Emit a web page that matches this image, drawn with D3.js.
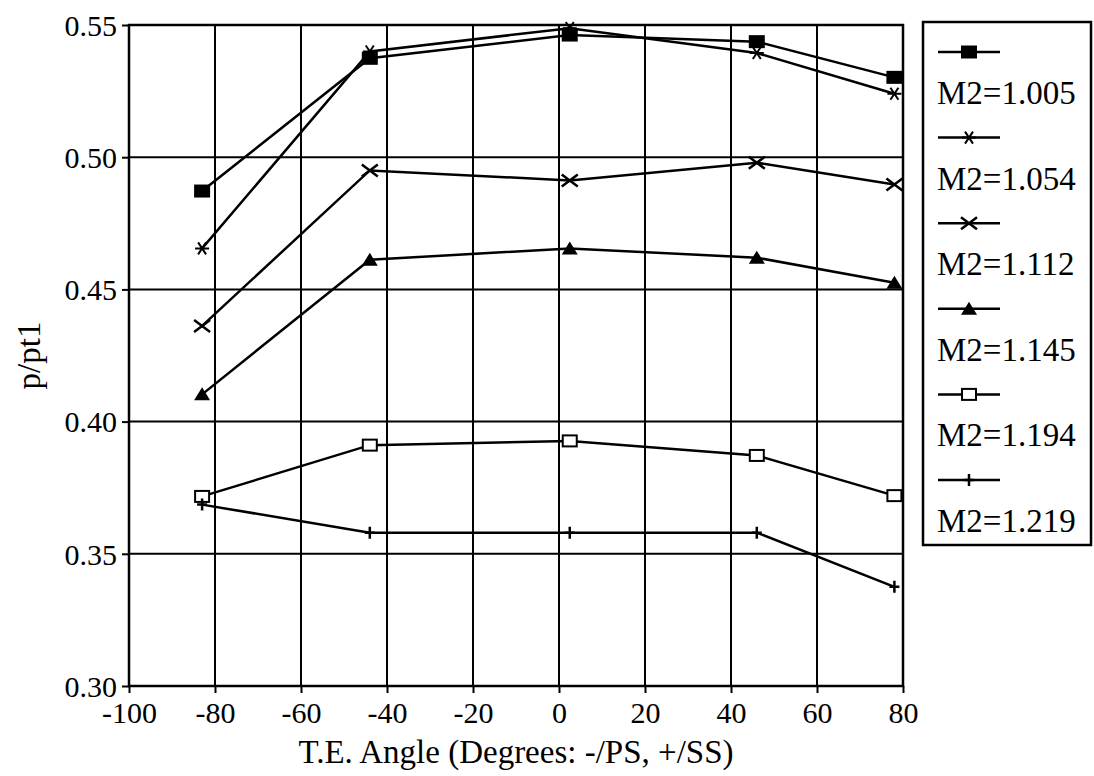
<!DOCTYPE html>
<html>
<head>
<meta charset="utf-8">
<script src="https://cdn.jsdelivr.net/npm/d3@7"></script>
<style>
  body { margin: 0; background: #fff; }
  text { font-family: "Liberation Serif", "Times New Roman", serif; fill: #000; }
</style>
</head>
<body>
<div id="wrapper"></div>
<script>
// 1. data
const angles = [-83, -44, 2.5, 46, 78];
const seriesNames = ["M2=1.005", "M2=1.054", "M2=1.112", "M2=1.145", "M2=1.194", "M2=1.219"];
const markerTypes = ["fillSquare", "star", "cross", "triangle", "openSquare", "plus"];
const m1005 = [0.4872, 0.5374, 0.5462, 0.5437, 0.5302];
const m1054 = [0.4655, 0.5400, 0.5488, 0.5394, 0.5240];
const m1112 = [0.4362, 0.4950, 0.4912, 0.4979, 0.4897];
const m1145 = [0.4103, 0.4612, 0.4655, 0.4620, 0.4525];
const m1194 = [0.3717, 0.3911, 0.3927, 0.3872, 0.3720];
const m1219 = [0.3686, 0.3580, 0.3580, 0.3580, 0.3375];
const xTicks = [-100, -80, -60, -40, -20, 0, 20, 40, 60, 80];
const yTicks = [0.30, 0.35, 0.40, 0.45, 0.50, 0.55];

const seriesValues = [m1005, m1054, m1112, m1145, m1194, m1219];
const series = seriesNames.map((name, i) => ({
    name,
    marker: markerTypes[i],
    points: angles.map((a, j) => ({ x: a, y: seriesValues[i][j] }))
}));

// 2. dimensions
const dimensions = {
    width: 1094,
    height: 776,
    margin: { top: 25, right: 191, bottom: 90, left: 129 }
};
dimensions.boundedWidth = dimensions.width - dimensions.margin.left - dimensions.margin.right;
dimensions.boundedHeight = dimensions.height - dimensions.margin.top - dimensions.margin.bottom;

// 3. draw canvas
const wrapper = d3.select("#wrapper")
    .append("svg")
    .attr("width", dimensions.width)
    .attr("height", dimensions.height);

const bounds = wrapper.append("g")
    .attr("transform", `translate(${dimensions.margin.left},${dimensions.margin.top})`);

// 4. scales
const xScale = d3.scaleLinear().domain([-100, 80]).range([0, dimensions.boundedWidth]);
const yScale = d3.scaleLinear().domain([0.30, 0.55]).range([dimensions.boundedHeight, 0]);

// grid
bounds.append("g").selectAll("line")
    .data(xTicks)
    .enter().append("line")
    .attr("x1", d => xScale(d)).attr("x2", d => xScale(d))
    .attr("y1", 0).attr("y2", dimensions.boundedHeight)
    .attr("stroke", "#000").attr("stroke-width", 2);

bounds.append("g").selectAll("line")
    .data(yTicks)
    .enter().append("line")
    .attr("x1", 0).attr("x2", dimensions.boundedWidth)
    .attr("y1", d => yScale(d)).attr("y2", d => yScale(d))
    .attr("stroke", "#000").attr("stroke-width", 2);

// axes - plain hyphen for negatives, like the original print
const xAxis = d3.axisBottom(xScale).tickValues(xTicks).tickSize(7).tickFormat(d => String(d));
const yAxis = d3.axisLeft(yScale).tickValues(yTicks).tickSize(7).tickPadding(5).tickFormat(d3.format(".2f"));

const xAxisGroup = bounds.append("g")
    .attr("transform", `translate(0,${dimensions.boundedHeight})`)
    .call(xAxis);
const yAxisGroup = bounds.append("g").call(yAxis);

[xAxisGroup, yAxisGroup].forEach(g => {
    g.attr("font-family", null).attr("font-size", null);
    g.select(".domain").remove();
    g.selectAll(".tick line").attr("stroke", "#000").attr("stroke-width", 2);
    g.selectAll(".tick text")
        .style("font-family", "Liberation Serif, Times New Roman, serif")
        .style("font-size", "30px")
        .attr("fill", "#000");
});
yAxisGroup.selectAll(".tick text").attr("dy", "0.34em");
xAxisGroup.selectAll(".tick text").attr("y", 37).attr("dy", 0);

// 5. draw data
const lineGenerator = d3.line()
    .x(d => xScale(d.x))
    .y(d => yScale(d.y));

bounds.append("g").selectAll("path")
    .data(series)
    .enter().append("path")
    .attr("d", d => lineGenerator(d.points))
    .attr("fill", "none")
    .attr("stroke", "#000")
    .attr("stroke-width", 2.5);

function drawMarker(g, type) {
    if (type === "fillSquare") {
        g.append("rect").attr("x", -8).attr("y", -6.5).attr("width", 16).attr("height", 13).attr("fill", "#000");
    } else if (type === "openSquare") {
        g.append("rect").attr("x", -7).attr("y", -5.5).attr("width", 14).attr("height", 11)
            .attr("fill", "#fff").attr("stroke", "#000").attr("stroke-width", 2);
    } else if (type === "star") {
        g.append("path").attr("d", "M-7,0H7M-4,-6L4,6M4,-6L-4,6")
            .attr("stroke", "#000").attr("stroke-width", 2).attr("fill", "none");
    } else if (type === "cross") {
        g.append("path").attr("d", "M-8,-6L8,6M8,-6L-8,6")
            .attr("stroke", "#000").attr("stroke-width", 2.5).attr("fill", "none");
    } else if (type === "triangle") {
        g.append("path").attr("d", "M0,-7L8,6H-8Z").attr("fill", "#000");
    } else if (type === "plus") {
        g.append("path").attr("d", "M-5,0H5M0,-6V6")
            .attr("stroke", "#000").attr("stroke-width", 2.5).attr("fill", "none");
    }
}

series.forEach(s => {
    bounds.append("g").selectAll("g")
        .data(s.points)
        .enter().append("g")
        .attr("transform", d => `translate(${xScale(d.x)},${yScale(d.y)})`)
        .each(function() { drawMarker(d3.select(this), s.marker); });
});

// plot frame
bounds.append("rect")
    .attr("width", dimensions.boundedWidth)
    .attr("height", dimensions.boundedHeight)
    .attr("fill", "none")
    .attr("stroke", "#000")
    .attr("stroke-width", 2.5);

// 6. peripherals
wrapper.append("text")
    .attr("x", dimensions.margin.left + dimensions.boundedWidth / 2)
    .attr("y", 763)
    .attr("text-anchor", "middle")
    .style("font-size", "33px")
    .text("T.E. Angle (Degrees: -/PS, +/SS)");

wrapper.append("text")
    .attr("transform", `translate(40,${dimensions.margin.top + dimensions.boundedHeight / 2}) rotate(-90)`)
    .attr("text-anchor", "middle")
    .style("font-size", "33px")
    .text("p/pt1");

// legend
const legendGroup = wrapper.append("g").attr("transform", "translate(923,22)");
legendGroup.append("rect")
    .attr("width", 168)
    .attr("height", 523)
    .attr("fill", "#fff")
    .attr("stroke", "#000")
    .attr("stroke-width", 2.5);

const legendStep = 85.6;
const legendItems = legendGroup.selectAll(".legend-item")
    .data(series)
    .enter().append("g")
    .attr("class", "legend-item")
    .attr("transform", (d, i) => `translate(0,${30 + i * legendStep})`);

legendItems.append("line")
    .attr("x1", 15).attr("x2", 77)
    .attr("stroke", "#000").attr("stroke-width", 2.5);

legendItems.append("g")
    .attr("transform", "translate(46,0)")
    .each(function(d) { drawMarker(d3.select(this), d.marker); });

legendItems.append("text")
    .attr("x", 14)
    .attr("y", 52)
    .style("font-size", "33px")
    .text(d => d.name);
</script>
</body>
</html>
